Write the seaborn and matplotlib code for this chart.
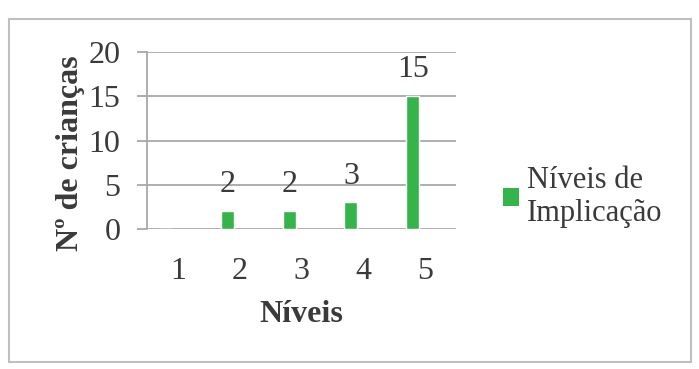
import matplotlib
matplotlib.use("Agg")
import matplotlib.pyplot as plt
import matplotlib.transforms as mtransforms
from matplotlib.patches import Rectangle, Patch
import seaborn as sns
import pandas as pd

levels = ["1", "2", "3", "4", "5"]
counts = [0, 2, 2, 3, 15]
value_labels = ["", "2", "2", "3", "15"]
series_name = "Níveis de\nImplicação"

sns.set_theme(style="white")
plt.rcParams['font.family'] = ['Liberation Serif', 'DejaVu Serif']

green = "#35b44a"
grid_c = "#a8a8a8"
txt_c = "#3a3a3a"

df = pd.DataFrame({"Níveis": levels, "Nº de crianças": counts})

fig = plt.figure(figsize=(6.99, 3.69), dpi=100)
ax = fig.add_axes([147/699, 1-229/369, (456-147)/699, (229-52)/369])

sns.barplot(data=df, x="Níveis", y="Nº de crianças", color=green, width=0.21,
            saturation=1, ax=ax)

ax.set_ylim(0, 20)
ax.set_yticks([0, 5, 10, 15, 20])
ax.yaxis.grid(True, color=grid_c, linewidth=1.3)
ax.set_axisbelow(True)
for s in ["top", "right", "bottom"]:
    ax.spines[s].set_visible(False)
ax.spines["left"].set_color(grid_c)
ax.spines["left"].set_linewidth(1.3)
ax.tick_params(axis="y", length=7, width=1.3, color=grid_c, labelsize=23, pad=12,
               left=True, labelcolor=txt_c)
ax.tick_params(axis="x", length=0, labelsize=23, pad=20, labelcolor=txt_c)
ax.set_xlim(-0.3, 4.7)

for lbl in ax.get_xticklabels():
    lbl.set_transform(lbl.get_transform() + mtransforms.ScaledTranslation(0.124, 0, fig.dpi_scale_trans))

for i, (v, t) in enumerate(zip(counts, value_labels)):
    if t:
        ax.annotate(t, (i, v), xytext=(0, 8.5), textcoords="offset points",
                    ha="center", va="bottom", fontsize=23, color=txt_c)

ax.set_xlabel("Níveis", fontsize=23, fontweight="bold", labelpad=10, color=txt_c)
ax.set_ylabel("Nº de crianças", fontsize=23, fontweight="bold", labelpad=4, color=txt_c)
ax.yaxis.set_label_coords(-0.2, 0.43)

handles = [Patch(facecolor=green, edgecolor="none", label=series_name)]
fig.legend(handles=handles, loc="center left", bbox_to_anchor=(475/699, 1-197/369),
           frameon=False, fontsize=22, handlelength=0.55, handleheight=0.55,
           handletextpad=0.25, labelcolor=txt_c, labelspacing=0.1)

fig.patches.append(Rectangle((9/699, 1-362/369), (691-9)/699, (362-19)/369,
                             transform=fig.transFigure, fill=False,
                             edgecolor="#bfbfbf", linewidth=1.5))

fig.savefig("out.png", dpi=100)
